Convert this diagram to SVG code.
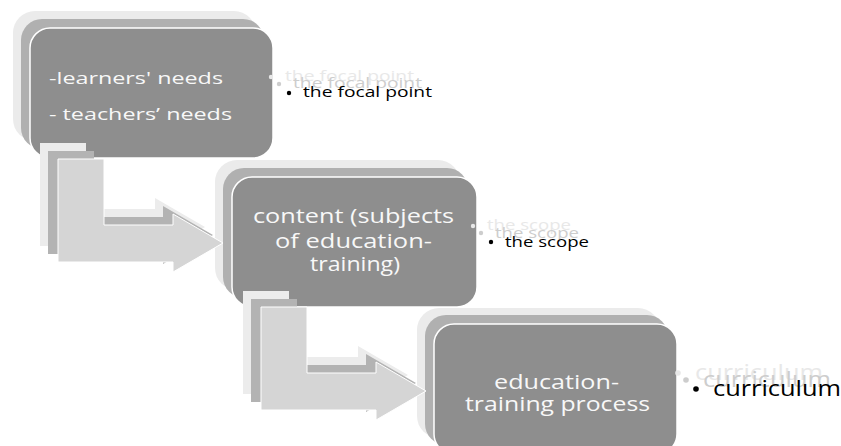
<svg xmlns="http://www.w3.org/2000/svg" xmlns:xlink="http://www.w3.org/1999/xlink" width="841" height="446" viewBox="0 0 841 446">
<style>
.light{fill:#ebebeb}
.mid{fill:#b0b0b0}
.front{fill:#8e8e8e;stroke:#ffffff;stroke-width:1.5}
.afront{fill:#d5d5d5;stroke:#ffffff;stroke-width:1}
.amid{fill:#b3b3b3}
.alight{fill:#ececec}
.bt{font-family:"Open Sans","Liberation Sans",sans-serif;fill:#f8f8f8}
.st{font-family:"Open Sans","Liberation Sans",sans-serif;fill:#000}
.g1{fill:#e8e8e8}
.g2{fill:#cdcdcd}
</style>
<defs>
<path id="arrow" d="M58,159 L104,159 L104,225 L173,225 L173,214 L223,243 L173,272 L173,262 L58,262 Z"/>
</defs>
<rect width="841" height="446" fill="#ffffff"/>
<g id="node1">
<rect class="light" x="13" y="11" width="243" height="130" rx="22"/>
<rect class="mid" x="21" y="19" width="243" height="130" rx="21"/>
<rect class="front" x="30" y="28" width="243" height="130" rx="20"/>
<text class="bt" x="49" y="84" font-size="17" textLength="174" lengthAdjust="spacingAndGlyphs">-learners' needs</text>
<text class="bt" x="49" y="120" font-size="17" textLength="183" lengthAdjust="spacingAndGlyphs">- teachers’ needs</text>
</g>
<g id="label1">
<circle class="g1" cx="271" cy="77" r="2.2"/>
<text class="st g1" x="285" y="81" font-size="14" textLength="129" lengthAdjust="spacingAndGlyphs">the focal point</text>
<circle class="g2" cx="279" cy="84" r="2.2"/>
<text class="st g2" x="293" y="88" font-size="14" textLength="129" lengthAdjust="spacingAndGlyphs">the focal point</text>
<circle cx="289" cy="93" r="2.2" fill="#000"/>
<text class="st" x="303" y="97" font-size="14" textLength="129" lengthAdjust="spacingAndGlyphs">the focal point</text>
</g>
<g id="node2">
<rect class="light" x="215" y="160" width="245" height="130" rx="22"/>
<rect class="mid" x="223" y="168" width="245" height="130" rx="21"/>
<rect class="front" x="232" y="177" width="245" height="130" rx="20"/>
<text class="bt" x="353.5" y="223" font-size="20" text-anchor="middle" textLength="201" lengthAdjust="spacingAndGlyphs">content (subjects</text>
<text class="bt" x="353.5" y="248" font-size="20" text-anchor="middle" textLength="157" lengthAdjust="spacingAndGlyphs">of education-</text>
<text class="bt" x="355" y="271" font-size="20" text-anchor="middle" textLength="90" lengthAdjust="spacingAndGlyphs">training)</text>
</g>
<g id="label2">
<circle class="g1" cx="473" cy="226" r="2.2"/>
<text class="st g1" x="487" y="230" font-size="14" textLength="84" lengthAdjust="spacingAndGlyphs">the scope</text>
<circle class="g2" cx="481" cy="233" r="2.2"/>
<text class="st g2" x="495" y="238" font-size="14" textLength="84" lengthAdjust="spacingAndGlyphs">the scope</text>
<circle cx="491" cy="242" r="2.2" fill="#000"/>
<text class="st" x="505" y="247" font-size="14" textLength="84" lengthAdjust="spacingAndGlyphs">the scope</text>
</g>
<g id="node3">
<rect class="light" x="417" y="308" width="243" height="130" rx="22"/>
<rect class="mid" x="425" y="315" width="243" height="130" rx="21"/>
<rect class="front" x="434" y="324" width="243" height="130" rx="20"/>
<text class="bt" x="556.5" y="389" font-size="20" text-anchor="middle" textLength="125" lengthAdjust="spacingAndGlyphs">education-</text>
<text class="bt" x="557.5" y="411" font-size="20" text-anchor="middle" textLength="185" lengthAdjust="spacingAndGlyphs">training process</text>
</g>
<g id="label3">
<circle class="g1" cx="678" cy="373" r="2.8"/>
<text class="st g1" x="695" y="380" font-size="22" textLength="128" lengthAdjust="spacingAndGlyphs">curriculum</text>
<circle class="g2" cx="686" cy="380" r="2.8"/>
<text class="st g2" x="703" y="387" font-size="22" textLength="128" lengthAdjust="spacingAndGlyphs">curriculum</text>
<circle cx="696" cy="389" r="2.8" fill="#000"/>
<text class="st" x="713" y="396" font-size="22" textLength="128" lengthAdjust="spacingAndGlyphs">curriculum</text>
</g>
<g id="connectors">
<g id="arrow1">
<use xlink:href="#arrow" class="alight" transform="translate(-18,-16)"/>
<use xlink:href="#arrow" class="amid" transform="translate(-10,-8)"/>
<use xlink:href="#arrow" class="afront"/>
</g>
<g id="arrow2" transform="translate(203,148)">
<use xlink:href="#arrow" class="alight" transform="translate(-18,-16)"/>
<use xlink:href="#arrow" class="amid" transform="translate(-10,-8)"/>
<use xlink:href="#arrow" class="afront"/>
</g>
</g>
</svg>
